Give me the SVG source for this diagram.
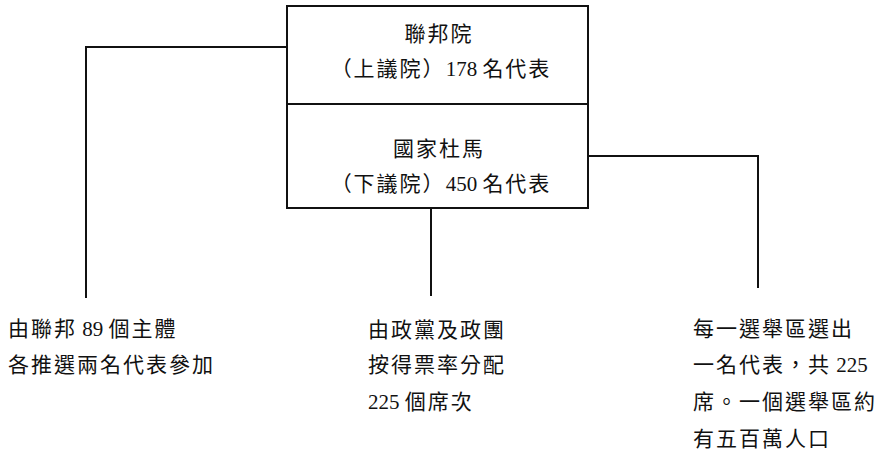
<svg xmlns="http://www.w3.org/2000/svg" width="885" height="453" viewBox="0 0 885 453">
<style>
.t{font-family:"Noto Sans CJK TC","Noto Sans CJK SC",sans-serif;font-size:21px;letter-spacing:2px;fill:#111}
.n{font-family:"Liberation Serif",serif;font-size:21px;letter-spacing:0}
.c{text-anchor:middle}
.box{fill:#fff;stroke:#111;stroke-width:2}
.conn{fill:none;stroke:#111;stroke-width:2}
</style>
<rect width="885" height="453" fill="#fff"/>
<g id="connectors">
<path class="conn" d="M287,47 H86 V298"/>
<path class="conn" d="M431,208 V296"/>
<path class="conn" d="M588,156 H758 V288"/>
</g>
<g id="upper-house">
<rect class="box" x="287" y="6" width="301" height="98"/>
<text class="t c" x="439" y="41">聯邦院</text>
<text class="t c" x="441" y="76">（上議院）<tspan class="n">178 </tspan>名代表</text>
</g>
<g id="lower-house">
<rect class="box" x="287" y="104" width="301" height="104"/>
<text class="t c" x="439" y="156">國家杜馬</text>
<text class="t c" x="441" y="191">（下議院）<tspan class="n">450 </tspan>名代表</text>
</g>
<g id="federation-subjects">
<text class="t" x="8" y="336">由聯邦<tspan class="n"> 89 </tspan>個主體</text>
<text class="t" x="8" y="372">各推選兩名代表參加</text>
</g>
<g id="party-list">
<text class="t" x="368" y="337">由政黨及政團</text>
<text class="t" x="368" y="372">按得票率分配</text>
<text class="t" x="368" y="409"><tspan class="n">225 </tspan>個席次</text>
</g>
<g id="single-district">
<text class="t" x="693" y="336">每一選舉區選出</text>
<text class="t" x="693" y="372">一名代表，共<tspan class="n"> 225</tspan></text>
<text class="t" x="693" y="409">席。一個選舉區約</text>
<text class="t" x="693" y="446">有五百萬人口</text>
</g>
</svg>
